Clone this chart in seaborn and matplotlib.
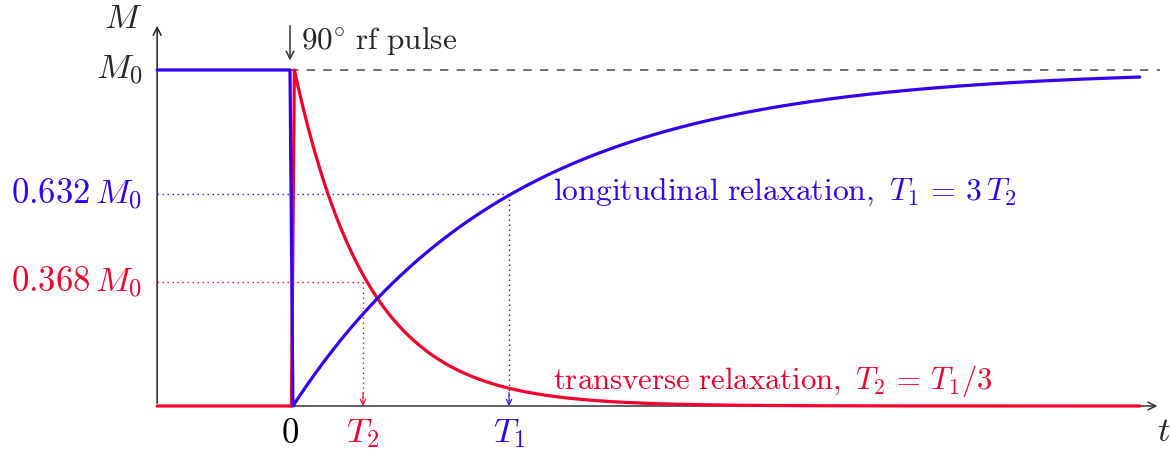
import numpy as np
import pandas as pd
import matplotlib
matplotlib.use("Agg")
import matplotlib.pyplot as plt
import seaborn as sns

# Relaxation constants (in units of T2)
T2 = 1.0
T1 = 3.0
M0 = 1.0
t_start = -1.82
t_end = 11.64
axis_end = 11.92
levels = [0.632, 0.368]
tick_labels = [r"$0$", r"$T_2$", r"$T_1$"]

BLUE = "#3300f0"
RED = "#f5002c"

sns.set_theme(style="white")
plt.rcParams["mathtext.fontset"] = "cm"
plt.rcParams["font.family"] = ["DejaVu Serif"]

# Longitudinal magnetisation: flipped to zero by the pulse, then regrows with T1
t_l = np.linspace(0.04, t_end, 600)
long_df = pd.DataFrame({
    "t": np.concatenate([[t_start, 0.0], t_l]),
    "M": np.concatenate([[M0, M0], M0 * (1 - np.exp(-(t_l - 0.04) / T1))]),
})
# Transverse magnetisation: created by the pulse, then decays with T2
t_t = np.linspace(0.06, t_end, 600)
trans_df = pd.DataFrame({
    "t": np.concatenate([[t_start, 0.02], t_t]),
    "M": np.concatenate([[0.0, 0.0], M0 * np.exp(-(t_t - 0.06) / T2)]),
})

fig = plt.figure(figsize=(11.7, 4.55), dpi=100)
ax = fig.add_axes([0, 0, 1, 1])
ax.set_xlim(-290 / 73, 880 / 73)
ax.set_ylim(-49 / 336, 406 / 336)
ax.axis("off")

# Axes with arrow heads
ax.annotate("", xy=(axis_end, 0), xytext=(t_start, 0),
            arrowprops=dict(arrowstyle="->", color="#333333", lw=1.1, mutation_scale=14))
ax.annotate("", xy=(t_start, 1.14), xytext=(t_start, 0),
            arrowprops=dict(arrowstyle="->", color="#222222", lw=1.1, mutation_scale=14))

# Equilibrium level
ax.plot([0, axis_end], [M0, M0], color="#555555", lw=1.2, ls=(0, (5, 5)), zorder=1)

# Guides at the time constants
dot = (0, (1, 2.6))
for x, y, c in [(T1, levels[0], BLUE), (T2, levels[1], RED)]:
    ax.plot([t_start, x], [y, y], color=c, lw=1.0, ls=dot)
    ax.plot([x, x], [y, 0.012], color=c, lw=1.0, ls=dot)
    ax.annotate("", xy=(x, 0.0), xytext=(x, 0.04),
                arrowprops=dict(arrowstyle="->", color=c, lw=0.8, mutation_scale=10,
                                shrinkA=0, shrinkB=0))

sns.lineplot(data=trans_df, x="t", y="M", color=RED, lw=2.3, sort=False, ax=ax, zorder=3)
sns.lineplot(data=long_df, x="t", y="M", color=BLUE, lw=2.3, sort=False, ax=ax, zorder=4)

fs = 25
# Axis labels
ax.text(t_start - 0.2, 1.155, r"$M$", fontsize=fs, ha="right", va="center")
ax.text(axis_end - 0.05, -0.075, r"$t$", fontsize=fs, ha="left", va="center")
ax.text(t_start - 0.2, M0, r"$M_0$", fontsize=fs, ha="right", va="center")
ax.text(t_start - 0.2, levels[0], r"$0.632\,M_0$", fontsize=fs, ha="right", va="center", color=BLUE)
ax.text(t_start - 0.2, levels[1], r"$0.368\,M_0$", fontsize=fs, ha="right", va="center", color=RED)
for x, lab, c in zip([0.0, T2, T1], tick_labels, ["black", RED, BLUE]):
    ax.text(x, -0.08, lab, fontsize=fs, ha="center", va="center", color=c)

# Pulse marker
ax.annotate("", xy=(0, 1.02), xytext=(0, 1.14),
            arrowprops=dict(arrowstyle="->", color="#333333", lw=1.1, mutation_scale=14))
ax.text(0.15, 1.085, r"$90^{\circ}\ \mathrm{rf\ pulse}$", fontsize=22.5, ha="left", va="center")

# Curve annotations
ax.text(3.6, 0.635, r"$\mathrm{longitudinal\ relaxation,}\ T_1 \,=\, 3\,T_2$",
        fontsize=22.8, ha="left", va="center", color=BLUE)
ax.text(3.6, 0.075, r"$\mathrm{transverse\ relaxation,}\ T_2 \,=\, T_1/3$",
        fontsize=22.2, ha="left", va="center", color=RED)

fig.savefig("out.png", dpi=100)
